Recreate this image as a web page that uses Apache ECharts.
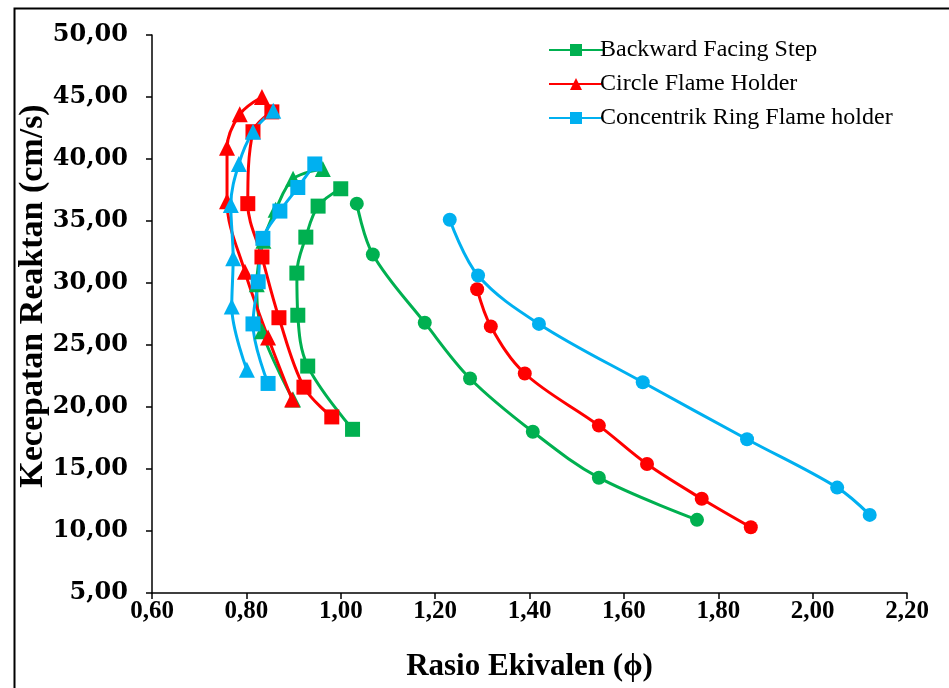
<!DOCTYPE html>
<html lang="id">
<head>
    <meta charset="utf-8"/>
    <title>Kecepatan Reaktan vs Rasio Ekivalen</title>
    <script src="https://cdn.jsdelivr.net/npm/echarts@6.0.0/dist/echarts.min.js"></script>
    <style>
        html, body {
            margin: 0;
            background: #fff;
        }

        .chart {
            width: 949px;
            height: 688px;
        }
    </style>
</head>
<body>
<div class="chart"></div>
<script>
    // [rasio ekivalen, kecepatan reaktan]
    const bfsSquare = [[1.025, 18.2], [0.930, 23.3], [0.909, 27.4], [0.907, 30.8], [0.926, 33.7], [0.952, 36.2], [1.000, 37.6]];
    const bfsTriangle = [[0.962, 39.2], [0.899, 38.4], [0.862, 35.9], [0.836, 33.4], [0.822, 29.9], [0.833, 26.1], [0.899, 20.6]];
    const bfsCircle = [[1.034, 36.4], [1.068, 32.3], [1.178, 26.8], [1.274, 22.3], [1.407, 18.0], [1.547, 14.3], [1.755, 10.9]];

    const cfhSquare = [[0.981, 19.2], [0.922, 21.6], [0.869, 27.2], [0.833, 32.1], [0.803, 36.4], [0.814, 42.2], [0.854, 43.8]];
    const cfhTriangle = [[0.833, 45.0], [0.786, 43.6], [0.759, 40.9], [0.759, 36.6], [0.797, 30.9], [0.846, 25.6], [0.897, 20.6]];
    const cfhCircle = [[1.289, 29.5], [1.318, 26.5], [1.390, 22.7], [1.547, 18.5], [1.649, 15.4], [1.765, 12.6], [1.869, 10.3]];

    const crfSquare = [[0.846, 21.9], [0.814, 26.7], [0.825, 30.1], [0.835, 33.6], [0.871, 35.8], [0.909, 37.7], [0.945, 39.6]];
    const crfTriangle = [[0.801, 23.0], [0.769, 28.1], [0.772, 32.0], [0.767, 36.3], [0.784, 39.6], [0.814, 42.2], [0.857, 43.9]];
    const crfCircle = [[1.231, 35.1], [1.291, 30.6], [1.420, 26.7], [1.640, 22.0], [1.861, 17.4], [2.052, 13.5], [2.121, 11.3]];

    const legendNames = ["Backward Facing Step", "Circle Flame Holder", "Concentrik Ring Flame holder"];

    const GREEN = "#00B050", RED = "#FF0000", BLUE = "#00B0F0";

    function comma(v) {
        return v.toFixed(2).replace(".", ",");
    }

    function line(name, data, color, symbol, size) {
        return {
            name: name,
            type: "line",
            data: data,
            smooth: 0.35,
            symbol: symbol,
            symbolSize: size,
            lineStyle: {color: color, width: 3},
            itemStyle: {color: color},
            emphasis: {disabled: true}
        };
    }

    const chart = echarts.init(document.querySelector(".chart"));
    chart.setOption({
        animation: false,
        grid: {left: 152, right: 42, top: 35, bottom: 95},
        legend: {
            data: legendNames,
            orient: "vertical",
            left: 543,
            top: 33,
            itemWidth: 54,
            itemHeight: 15,
            itemGap: 10,
            textStyle: {fontFamily: "Liberation Serif", fontSize: 24, color: "#000", padding: [0, 0, 0, -8]}
        },
        xAxis: {
            type: "value",
            min: 0.6,
            max: 2.2,
            interval: 0.2,
            name: "Rasio Ekivalen (ϕ)",
            nameLocation: "middle",
            nameGap: 58,
            nameMoveOverlap: false,
            nameTextStyle: {fontFamily: "Liberation Serif", fontWeight: "bold", fontSize: 31, color: "#000"},
            axisLine: {lineStyle: {color: "#000", width: 1.5}},
            axisTick: {show: true, length: 6, lineStyle: {color: "#000", width: 1.5}},
            axisLabel: {
                formatter: comma,
                margin: 6,
                fontFamily: "Liberation Serif",
                fontWeight: "bold",
                fontSize: 25,
                color: "#000"
            },
            splitLine: {show: false}
        },
        yAxis: {
            type: "value",
            min: 5,
            max: 50,
            interval: 5,
            name: "Kecepatan Reaktan (cm/s)",
            nameLocation: "middle",
            nameGap: 102,
            nameMoveOverlap: false,
            nameTextStyle: {
                fontFamily: "Liberation Serif",
                fontWeight: "bold",
                fontSize: 34,
                color: "#000",
                padding: [0, 0, 0, 36]
            },
            axisLine: {show: true, lineStyle: {color: "#000", width: 1.5}},
            axisTick: {show: true, length: 6, lineStyle: {color: "#000", width: 1.5}},
            axisLabel: {
                formatter: comma,
                margin: 24,
                fontFamily: "DejaVu Serif",
                fontWeight: "bold",
                fontSize: 24,
                color: "#000"
            },
            splitLine: {show: false}
        },
        graphic: [{
            type: "rect",
            left: 12,
            top: 6,
            shape: {width: 946, height: 690},
            style: {fill: "none", stroke: "#000", lineWidth: 2},
            silent: true
        }],
        series: [
            line(legendNames[0], bfsSquare, GREEN, "rect", 15),
            line("bfs-lean-2", bfsTriangle, GREEN, "triangle", 16),
            line("bfs-rich", bfsCircle, GREEN, "circle", 14),
            line(legendNames[1], cfhTriangle, RED, "triangle", 16),
            line("cfh-lean-2", cfhSquare, RED, "rect", 15),
            line("cfh-rich", cfhCircle, RED, "circle", 14),
            line(legendNames[2], crfSquare, BLUE, "rect", 15),
            line("crf-lean-2", crfTriangle, BLUE, "triangle", 16),
            line("crf-rich", crfCircle, BLUE, "circle", 14)
        ]
    });
</script>
</body>
</html>
